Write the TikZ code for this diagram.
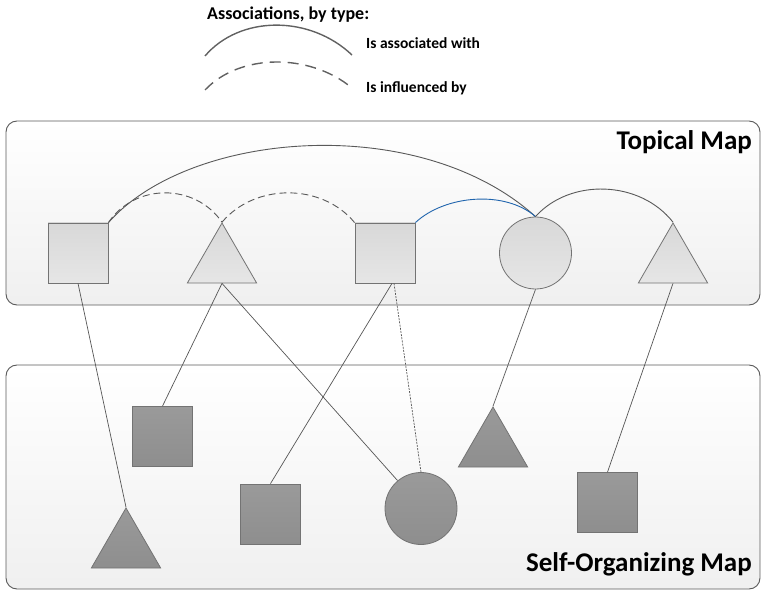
\documentclass[tikz,border=0pt]{standalone}
\usepackage{fontspec}
\setmainfont{Carlito}
\usetikzlibrary{shapes.geometric}
\definecolor{edge}{HTML}{5A5A5A}
\definecolor{linkc}{HTML}{555555}
\definecolor{lightA}{HTML}{D8D8D8}
\definecolor{lightB}{HTML}{E6E6E6}
\definecolor{darkA}{HTML}{9A9A9A}
\definecolor{darkB}{HTML}{8E8E8E}
\definecolor{blueline}{HTML}{1F64AD}
\tikzset{
  panel/.style={draw=edge, line width=0.9pt, rounded corners=11pt, top color=white, bottom color=black!6},
  upsq/.style={draw=black!55, line width=0.8pt, minimum size=60pt, inner sep=0pt, top color=lightA, bottom color=lightB},
  uptri/.style={regular polygon, regular polygon sides=3, draw=black!55, line width=0.8pt, minimum size=80pt, inner sep=0pt, top color=lightA, bottom color=lightB},
  upcirc/.style={circle, draw=black!55, line width=0.8pt, minimum size=72pt, inner sep=0pt, top color=lightA, bottom color=lightB},
  dnsq/.style={draw=black!55, line width=0.8pt, minimum size=60pt, inner sep=0pt, top color=darkA, bottom color=darkB},
  dntri/.style={regular polygon, regular polygon sides=3, draw=black!55, line width=0.8pt, minimum size=80pt, inner sep=0pt, top color=darkA, bottom color=darkB},
  dncirc/.style={circle, draw=black!55, line width=0.8pt, minimum size=72pt, inner sep=0pt, top color=darkA, bottom color=darkB},
  link/.style={draw=linkc, line width=0.7pt},
  weaklink/.style={draw=linkc, line width=0.7pt, dash pattern=on 2pt off 1.2pt},
  assoc/.style={draw=black!65, line width=0.9pt},
  influ/.style={draw=black!65, line width=0.9pt, dash pattern=on 7pt off 4pt},
  legsolid/.style={draw=black!62, line width=1.4pt},
  legdash/.style={draw=black!62, line width=1.4pt, dash pattern=on 11pt off 7pt},
  maptitle/.style={font=\fontsize{27}{30}\selectfont\bfseries, anchor=east, inner sep=0pt},
  legtext/.style={font=\fontsize{15.5}{17}\selectfont\bfseries, anchor=west, inner sep=0pt}
}
\begin{document}
\begin{tikzpicture}[x=1pt,y=-1pt]
\useasboundingbox (0,0) rectangle (761,591);

% legend
\node[font=\fontsize{18}{20}\selectfont\bfseries, anchor=west, inner sep=0pt] (leghead) at (207,15) {Associations, by type:};
\coordinate (ls1) at (205,56);
\coordinate (ls2) at (352,55);
\coordinate (ld1) at (205,90);
\coordinate (ld2) at (352,88);
\draw[legsolid] (ls1) .. controls (240,15) and (310,15) .. (ls2);
\draw[legdash] (ld1) .. controls (240,53) and (310,53) .. (ld2);
\node[legtext] (legA) at (366,43) {Is associated with};
\node[legtext] (legB) at (366,88) {Is influenced by};

% panels
\path[panel] (6,121) rectangle (760,305);
\path[panel] (6,365) rectangle (760,589);
\node[maptitle] (ttop) at (752,142) {Topical Map};
\node[maptitle] (tbot) at (752,564) {Self-Organizing Map};

% topical map elements
\node[upsq] (A) at (78,253) {};
\node[uptri] (B) at (222,263) {};
\node[upsq] (C) at (385,253) {};
\node[upcirc] (D) at (535.5,253) {};
\node[uptri] (E) at (673,263) {};

% self-organizing map elements
\node[dntri] (a) at (126,548) {};
\node[dnsq] (b) at (162.5,436.5) {};
\node[dnsq] (c) at (270.5,514) {};
\node[dncirc] (d) at (421,508.5) {};
\node[dntri] (e) at (493,447) {};
\node[dnsq] (f) at (607.5,502.5) {};

% associations inside the topical map
\draw[assoc] (A.north east) .. controls (190,130) and (420,112) .. (D.north);
\draw[influ] (A.north east) .. controls (135,183) and (195,183) .. (B.corner 1);
\draw[influ] (B.corner 1) .. controls (255,183) and (322,183) .. (C.north west);
\draw[draw=blueline, line width=0.9pt] (C.north east) .. controls (445,195) and (505,190) .. (D.north);
\draw[assoc] (D.north) .. controls (570,178) and (640,180) .. (E.corner 1);

% mapping from topics to SOM units
\draw[link] (A.south) -- (a.corner 1);
\draw[link] (B.side 2) -- (b.north);
\draw[link] (B.side 2) -- (d.130);
\draw[link] ([xshift=7pt]C.south) -- (c.north);
\draw[weaklink] ([xshift=9pt]C.south) -- (d.north);
\draw[link] (D.south) -- (e.corner 1);
\draw[link] (E.side 2) -- (f.north);
\end{tikzpicture}
\end{document}
